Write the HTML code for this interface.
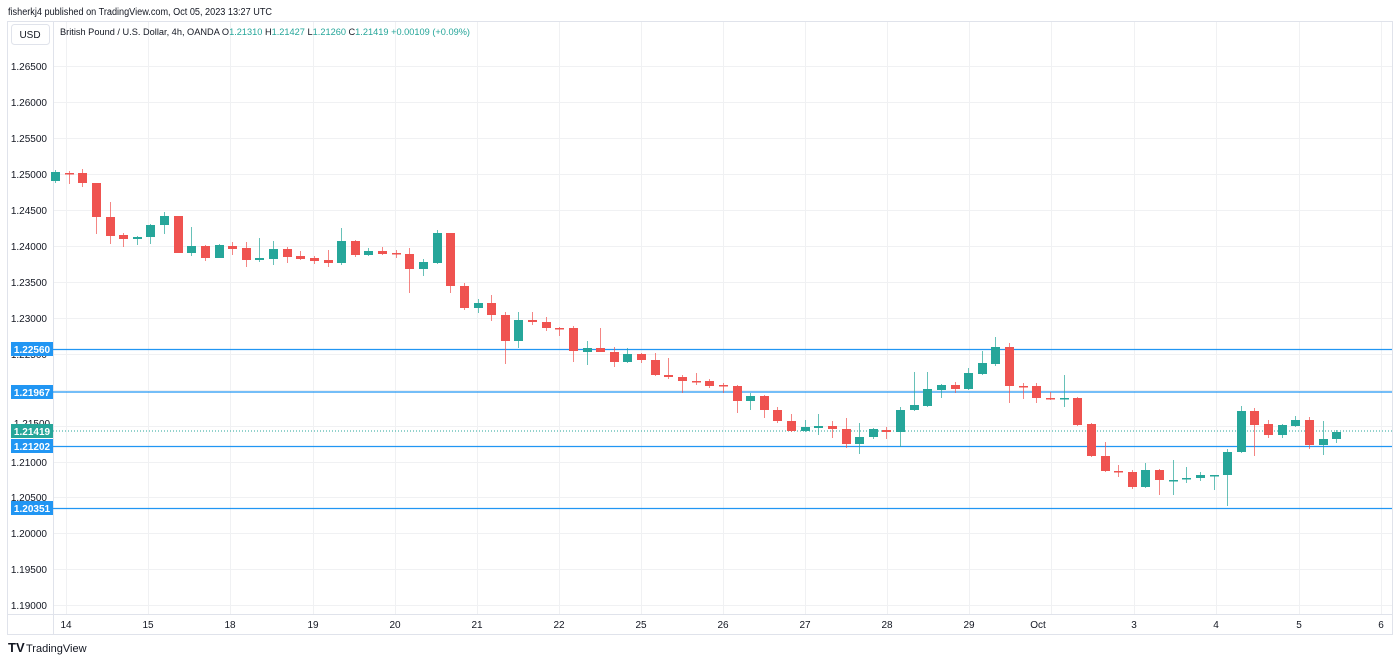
<!DOCTYPE html>
<html><head><meta charset="utf-8"><style>
body{margin:0;background:#fff;width:1400px;height:662px;overflow:hidden;font-family:"Liberation Sans",sans-serif}
svg{position:absolute;left:0;top:0}
</style></head><body>
<svg id="s" width="1400" height="662" xmlns="http://www.w3.org/2000/svg" font-family="Liberation Sans, sans-serif">
<text x="8" y="15" font-size="10" fill="#131722" textLength="264" lengthAdjust="spacingAndGlyphs">fisherkj4 published on TradingView.com, Oct 05, 2023 13:27 UTC</text>
<rect x="7.5" y="21.5" width="1385" height="613" fill="#fff" stroke="#e0e3eb"/>
<g id="grid" stroke="#f0f1f3" stroke-width="1"></g>
<line x1="53.5" y1="22" x2="53.5" y2="634" stroke="#e0e3eb"/>
<line x1="8" y1="614.5" x2="1392" y2="614.5" stroke="#e0e3eb"/>
<rect x="11.5" y="24.5" width="38" height="20" rx="3" fill="#fff" stroke="#e0e3eb"/>
<text x="30" y="38" font-size="10" fill="#131722" text-anchor="middle">USD</text>
<text x="60" y="35" font-size="9.5" fill="#131722" textLength="410" lengthAdjust="spacingAndGlyphs">British Pound / U.S. Dollar, 4h, OANDA  O<tspan fill="#26a69a">1.21310</tspan>  H<tspan fill="#26a69a">1.21427</tspan>  L<tspan fill="#26a69a">1.21260</tspan>  C<tspan fill="#26a69a">1.21419</tspan>  <tspan fill="#26a69a">+0.00109 (+0.09%)</tspan></text>
<g font-size="10" fill="#131722" text-anchor="end">
<text x="47" y="70">1.26500</text><text x="47" y="106">1.26000</text><text x="47" y="142">1.25500</text><text x="47" y="178">1.25000</text><text x="47" y="214">1.24500</text><text x="47" y="250">1.24000</text><text x="47" y="286">1.23500</text><text x="47" y="322">1.23000</text><text x="47" y="358">1.22500</text><text x="47" y="466">1.21000</text><text x="47" y="501">1.20500</text><text x="47" y="537">1.20000</text><text x="47" y="573">1.19500</text><text x="47" y="609">1.19000</text>
</g>
<g font-size="10" fill="#131722" text-anchor="middle">
<text x="66" y="628">14</text><text x="148" y="628">15</text><text x="230" y="628">18</text><text x="313" y="628">19</text><text x="395" y="628">20</text><text x="477" y="628">21</text><text x="559" y="628">22</text><text x="641" y="628">25</text><text x="723" y="628">26</text><text x="805" y="628">27</text><text x="887" y="628">28</text><text x="969" y="628">29</text><text x="1038" y="628">Oct</text><text x="1134" y="628">3</text><text x="1216" y="628">4</text><text x="1299" y="628">5</text><text x="1381" y="628">6</text>
</g>
<g stroke="#2196f3" stroke-width="1.3">
<line x1="53" y1="349.5" x2="1392" y2="349.5"/><line x1="53" y1="392" x2="1392" y2="392"/><line x1="53" y1="446.5" x2="1392" y2="446.5"/><line x1="53" y1="508.5" x2="1392" y2="508.5"/>
</g>
<line x1="53" y1="431" x2="1392" y2="431" stroke="#26a69a" stroke-dasharray="1,2"/>
<g id="c"></g>
<g font-size="10" font-weight="bold" fill="#fff" text-anchor="middle">
<rect x="11" y="342" width="42" height="14" fill="#2196f3"/><text x="32" y="353">1.22560</text>
<rect x="11" y="385" width="42" height="14" fill="#2196f3"/><text x="32" y="396">1.21967</text>
<text x="32" y="427" fill="#131722" font-weight="normal">1.21500</text>
<rect x="11" y="424" width="42" height="14" fill="#26a69a"/><text x="32" y="435">1.21419</text>
<rect x="11" y="439" width="42" height="14" fill="#2196f3"/><text x="32" y="450">1.21202</text>
<rect x="11" y="501" width="42" height="14" fill="#2196f3"/><text x="32" y="512">1.20351</text>
</g>
<text x="8" y="652" font-size="13" font-weight="bold" fill="#131722">TV</text>
<text x="26" y="652" font-size="11" fill="#131722">TradingView</text>
</svg>
<script>
var ns="http://www.w3.org/2000/svg",g=document.getElementById('grid'),c=document.getElementById('c');
function el(p,t,a){var e=document.createElementNS(ns,t);for(var k in a)e.setAttribute(k,a[k]);p.appendChild(e);return e;}
[66,102,138,174,210,246,282,318,354,390,426,462,497,533,569,605].forEach(function(y){el(g,'line',{x1:54,x2:1392,y1:y+.5,y2:y+.5});});
[66,148,230,313,395,477,559,641,723,805,887,969,1051,1134,1216,1299,1381].forEach(function(x){el(g,'line',{x1:x+.5,x2:x+.5,y1:22,y2:614});});
var d=[
['g',172,181,170,183],['r',173,174,171,184],['r',173,183,169,187],['r',183,217,183,234],['r',217,236,202,244],['r',235,239,233,247],['g',237,239,236,245],['g',225,237,224,244],['g',216,225,212,234],['r',216,253,216,253],
['g',246,253,227,256],['r',246,258,245,261],['g',245,258,244,258],['r',246,249,242,255],['r',248,260,242,267],['g',258,260,238,262],['g',249,259,241,265],['r',249,257,247,263],['r',256,259,251,260],['r',258,261,256,264],
['r',260,263,250,267],['g',241,263,228,265],['r',241,255,240,257],['g',251,255,248,256],['r',251,254,247,255],['r',253,254,250,258],['r',254,269,248,293],['g',262,269,259,276],['g',233,263,230,264],['r',233,286,233,293],
['r',286,308,283,310],['g',303,308,299,313],['r',303,315,295,321],['r',315,341,312,364],['g',320,341,312,348],['r',320,322,312,325],['r',322,328,317,331],['r',328,329,327,336],['r',328,351,326,362],['g',348,352,341,365],
['r',348,352,328,352],['r',352,362,347,367],['g',354,362,348,363],['r',354,360,353,363],['r',360,375,353,376],['r',375,377,358,379],['r',377,381,375,393],['r',381,382,373,385],['r',381,386,379,388],['r',385,386,383,393],
['r',386,401,385,413],['g',396,401,393,410],['r',396,410,395,418],['r',410,421,407,423],['r',421,431,414,432],['g',427,431,420,432],['g',426,428,414,435],['r',426,429,421,438],['r',429,444,418,448],['g',437,444,423,454],
['g',429,437,428,439],['r',430,432,427,439],['g',410,432,407,447],['g',405,410,372,411],['g',389,406,372,407],['g',385,390,384,398],['r',385,389,382,393],['g',373,389,368,390],['g',363,374,351,375],['g',347,364,337,366],
['r',347,386,343,403],['r',386,387,383,399],['r',386,398,383,403],['r',398,399,392,400],['g',398,399,375,407],['r',398,425,397,426],['r',424,456,423,457],['r',456,471,442,472],['r',471,472,465,477],['r',472,487,470,489],
['g',470,487,463,488],['r',470,480,469,495],['g',480,481,460,495],['g',478,479,467,483],['g',475,478,472,481],['g',475,476,475,490],['g',452,475,449,506],['g',411,452,406,453],['r',411,425,408,456],['r',424,435,420,438],
['g',425,435,424,438],['g',420,426,416,427],['r',420,445,417,449],['g',439,445,421,455],['g',432,439,430,443]];
d.forEach(function(a,i){var x=Math.round(55+i*13.63),col=a[0]=='g'?'#26a69a':'#ef5350';
el(c,'line',{x1:x+.5,x2:x+.5,y1:a[3],y2:a[4],stroke:col,'stroke-opacity':0.7});
el(c,'rect',{x:x-4,y:a[1],width:9,height:Math.max(1.5,a[2]-a[1]),fill:col});});
</script>
</body></html>
